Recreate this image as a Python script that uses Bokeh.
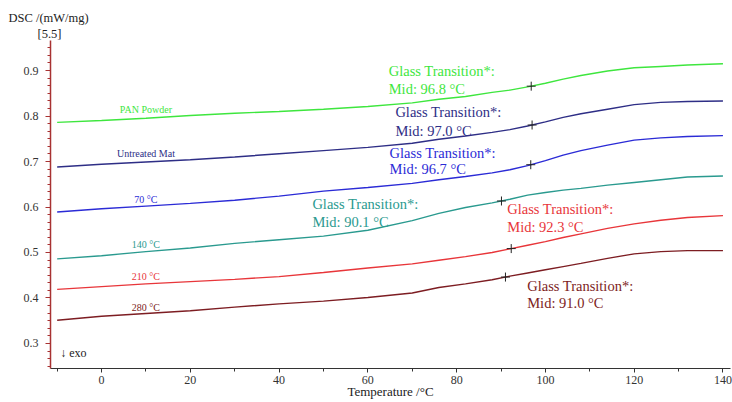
from bokeh.plotting import figure
from bokeh.models import Range1d, Label, ColumnDataSource, FixedTicker, Title
from bokeh.core.properties import value
from bokeh.embed import file_html
from bokeh.resources import INLINE
import numpy as np

# ---- data ----
temperature = [-10, 0, 10, 20, 30, 40, 50, 60, 70, 76, 82, 88, 92, 96, 100, 104, 108, 114, 120, 126, 132, 140]

pan_powder = [0.786, 0.790, 0.795, 0.801, 0.806, 0.810, 0.815, 0.821, 0.829, 0.837, 0.843, 0.852, 0.857, 0.864,
              0.872, 0.881, 0.889, 0.899, 0.906, 0.909, 0.912, 0.915]
untreated_mat = [0.688, 0.694, 0.699, 0.704, 0.710, 0.717, 0.724, 0.731, 0.740, 0.749, 0.756, 0.764, 0.770, 0.778,
                 0.787, 0.797, 0.805, 0.815, 0.825, 0.830, 0.832, 0.833]
t70 = [0.589, 0.596, 0.602, 0.608, 0.615, 0.624, 0.635, 0.643, 0.652, 0.660, 0.667, 0.675, 0.682, 0.691,
       0.702, 0.714, 0.724, 0.736, 0.747, 0.752, 0.755, 0.757]
t140 = [0.486, 0.493, 0.502, 0.510, 0.520, 0.528, 0.536, 0.549, 0.570, 0.586, 0.599, 0.609, 0.617, 0.626,
        0.632, 0.637, 0.641, 0.648, 0.654, 0.660, 0.666, 0.668]
t210 = [0.419, 0.425, 0.431, 0.436, 0.441, 0.447, 0.456, 0.466, 0.475, 0.483, 0.491, 0.500, 0.508, 0.516,
        0.524, 0.533, 0.541, 0.553, 0.563, 0.571, 0.577, 0.581]
t280 = [0.351, 0.360, 0.366, 0.372, 0.380, 0.387, 0.393, 0.401, 0.411, 0.423, 0.431, 0.440, 0.448, 0.455,
        0.462, 0.469, 0.476, 0.487, 0.497, 0.502, 0.504, 0.504]

series = [pan_powder, untreated_mat, t70, t140, t210, t280]
series_names = ["PAN Powder", "Untreated Mat", "70 °C", "140 °C", "210 °C", "280 °C"]
colors = ["#3ee63e", "#2e2e86", "#2b2bd6", "#2a9a8f", "#e8363a", "#7d1d22"]

# glass transition mid points (°C)
tg_mid = [96.8, 97.0, 96.7, 90.1, 92.3, 91.0]
tg_text1 = ["Glass Transition*:"] * 6
tg_text2 = ["Mid:  96.8 °C", "Mid:  97.0 °C", "Mid:  96.7 °C", "Mid:  90.1 °C", "Mid:  92.3 °C", "Mid:  91.0 °C"]
# annotation anchor positions (data coordinates)
ann_x = [64.7, 66.2, 64.9, 47.5, 91.4, 95.9]
ann_y1 = [0.898, 0.808, 0.718, 0.607, 0.596, 0.427]
ann_y2 = [0.860, 0.768, 0.684, 0.567, 0.556, 0.389]

# curve name labels
name_x = [10, 10, 10, 10, 10, 10]
name_y = [0.814, 0.717, 0.616, 0.518, 0.448, 0.380]

x_ticks = [0, 20, 40, 60, 80, 100, 120, 140]
y_ticks = [0.3, 0.4, 0.5, 0.6, 0.7, 0.8, 0.9]

FONT = "Liberation Serif"

p = figure(width=732, height=402, output_backend="svg", toolbar_location=None,
           x_range=Range1d(-11.5, 141.7), y_range=Range1d(0.245, 0.966),
           min_border_left=50, min_border_right=2, min_border_top=40, min_border_bottom=34)
p.outline_line_color = None
p.xgrid.grid_line_color = None
p.ygrid.grid_line_color = None
p.background_fill_color = "white"
p.border_fill_color = "white"

# titles at the top-left (y quantity and range note)
p.title.text = "DSC /(mW/mg)"
p.title.align = "left"
p.title.offset = -42
p.title.standoff = 0
p.title.text_font = FONT
p.title.text_font_size = "12.5px"
p.title.text_font_style = "normal"
p.title.text_color = "#222222"
sub = Title(text="[5.5]", align="left", offset=-13, standoff=0, text_font=FONT,
            text_font_size="12.5px", text_font_style="normal", text_color="#222222")
p.add_layout(sub, "above")

# axes
xa = p.xaxis[0]
xa.ticker = FixedTicker(ticks=x_ticks, minor_ticks=list(range(-10, 141, 10)))
xa.axis_line_color = "#333333"
xa.major_tick_line_color = "#333333"
xa.minor_tick_line_color = "#333333"
xa.major_tick_out = 4
xa.major_tick_in = 0
xa.minor_tick_out = 3
xa.minor_tick_in = 0
xa.major_label_standoff = 3
xa.major_label_text_font = FONT
xa.major_label_text_font_size = "12px"
xa.major_label_text_color = "#333333"
xa.axis_label = "Temperature /°C"
xa.axis_label_text_font = FONT
xa.axis_label_text_font_size = "13px"
xa.axis_label_text_font_style = "normal"
xa.axis_label_text_color = "#222222"
xa.axis_label_standoff = -3

ya = p.yaxis[0]
ya.ticker = FixedTicker(ticks=y_ticks, minor_ticks=[round(0.25 + i / 60, 4) for i in range(0, 43)])
ya.axis_line_color = "#a83232"
ya.axis_line_width = 1.5
ya.major_tick_line_color = "#a83232"
ya.minor_tick_line_color = "#a83232"
ya.major_tick_out = 5
ya.major_tick_in = 0
ya.minor_tick_out = 3
ya.minor_tick_in = 0
ya.major_label_standoff = 7
ya.major_label_text_font = FONT
ya.major_label_text_font_size = "12px"
ya.major_label_text_color = "#333333"

# curves
for ys, c in zip(series, colors):
    p.line(temperature, ys, line_color=c, line_width=1.4)

# glass transition crosses
cross_y = [float(np.interp(t, temperature, ys)) for t, ys in zip(tg_mid, series)]
p.scatter(tg_mid, cross_y, marker="cross", size=9, line_color="#222222", line_width=1)

# annotations
ann_src = ColumnDataSource(dict(x=ann_x, y1=ann_y1, y2=ann_y2, t1=tg_text1, t2=tg_text2, c=colors))
p.text(x="x", y="y1", text="t1", source=ann_src, text_color="c", text_font=value(FONT),
       text_font_size="14.5px", text_baseline="middle", text_align="left")
p.text(x="x", y="y2", text="t2", source=ann_src, text_color="c", text_font=value(FONT),
       text_font_size="14.5px", text_baseline="middle", text_align="left")

name_src = ColumnDataSource(dict(x=name_x, y=name_y, t=series_names, c=colors))
p.text(x="x", y="y", text="t", source=name_src, text_color="c", text_font=value(FONT),
       text_font_size="10px", text_baseline="middle", text_align="center")

p.add_layout(Label(x=-9.3, y=0.280, text="↓ exo", text_font=FONT, text_font_size="12px",
                   text_color="#222222", text_baseline="middle", text_align="left"))

open("out.html", "w").write(file_html(p, INLINE))
